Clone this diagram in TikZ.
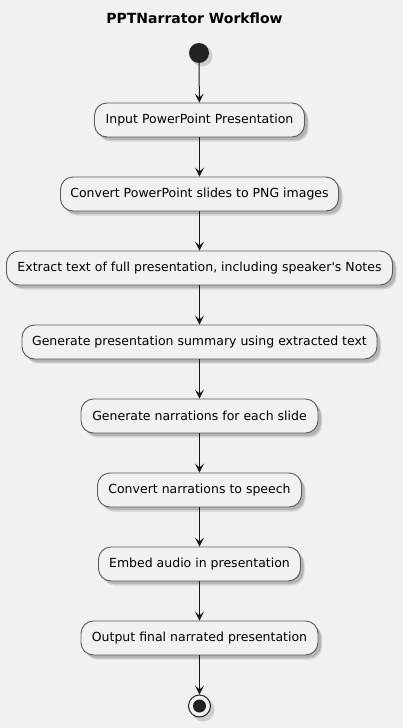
\documentclass[tikz,border=0pt]{standalone}
\usepackage{fontspec}
\setmainfont{DejaVu Sans}
\usetikzlibrary{arrows.meta}
\definecolor{bg}{HTML}{F1F1F1}
\definecolor{boxborder}{HTML}{5A5A5A}
\definecolor{ink}{HTML}{181818}
\definecolor{dot}{HTML}{222222}
\tikzset{
  act/.style={draw=boxborder, line width=0.9pt, fill=bg, rounded corners=12.5pt,
    minimum height=34pt, inner sep=0pt, font=\fontsize{12.5}{14}\selectfont, text=black,
    preaction={fill=black, fill opacity=0.14, transform canvas={shift={(3pt,-3pt)}}},
    preaction={fill=black, fill opacity=0.12, transform canvas={shift={(4pt,-4.5pt)}}}},
  flow/.style={draw=ink, line width=1pt, -{Stealth[length=9pt,width=9pt,inset=4pt]}},
}
\begin{document}
\begin{tikzpicture}[x=1pt,y=-1pt]
\fill[bg] (0,0) rectangle (403,728);
\useasboundingbox (0,0) rectangle (403,728);
\node[font=\bfseries\fontsize{14}{16}\selectfont] (title) at (194.5,18) {PPTNarrator Workflow};
\fill[black, opacity=0.15] (202,56) circle (10.5);
\node[circle, fill=dot, minimum size=20pt, inner sep=0pt] (start) at (199,53) {};
\node[act, minimum width=210pt] (a1) at (199.5,120) {Input PowerPoint Presentation};
\node[act, minimum width=278pt] (a2) at (199.5,194) {Convert PowerPoint slides to PNG images};
\node[act, minimum width=386pt] (a3) at (199.5,268) {Extract text of full presentation, including speaker\textquotesingle s Notes};
\node[act, minimum width=355pt] (a4) at (199.5,342) {Generate presentation summary using extracted text};
\node[act, minimum width=237pt] (a5) at (199.5,416) {Generate narrations for each slide};
\node[act, minimum width=204pt] (a6) at (199.5,490) {Convert narrations to speech};
\node[act, minimum width=202pt] (a7) at (199.5,564) {Embed audio in presentation};
\node[act, minimum width=237pt] (a8) at (199.5,638) {Output final narrated presentation};
\fill[black, opacity=0.15] (203,710) circle (11.5);
\node[circle, draw=dot, line width=1pt, fill=bg, minimum size=22pt, inner sep=0pt] (stop) at (199.5,706) {};
\fill[dot] (stop.center) circle (6.5);
\draw[flow] (start) -- (a1);
\draw[flow] (a1) -- (a2);
\draw[flow] (a2) -- (a3);
\draw[flow] (a3) -- (a4);
\draw[flow] (a4) -- (a5);
\draw[flow] (a5) -- (a6);
\draw[flow] (a6) -- (a7);
\draw[flow] (a7) -- (a8);
\draw[flow] (a8) -- (stop);
\end{tikzpicture}
\end{document}
